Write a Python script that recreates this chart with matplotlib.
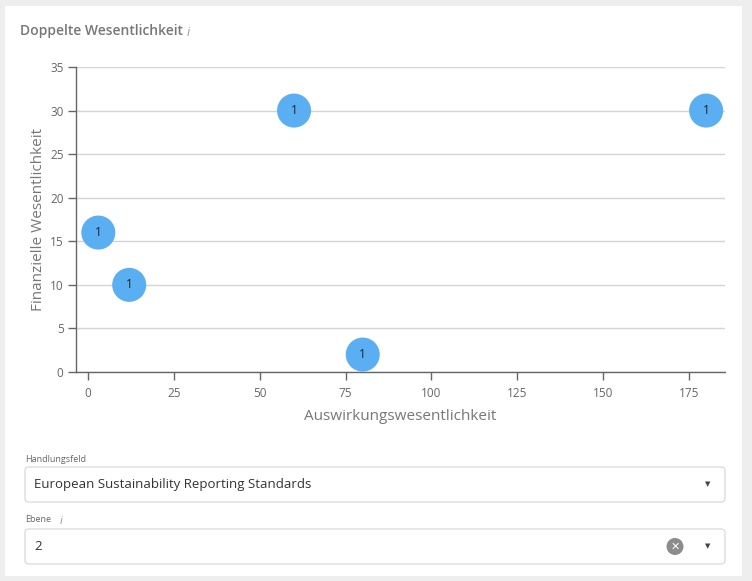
import matplotlib
matplotlib.use('Agg')
import matplotlib.pyplot as plt
from matplotlib.patches import FancyBboxPatch, Rectangle, Ellipse

# Daten
x_werte = [3, 12, 60, 80, 180]
y_werte = [16, 10, 30, 2, 30]
anzahl = [1, 1, 1, 1, 1]
x_ticks = [0, 25, 50, 75, 100, 125, 150, 175]
y_ticks = [0, 5, 10, 15, 20, 25, 30, 35]

plt.rcParams['font.family'] = ['Open Sans', 'DejaVu Sans']

W, H = 752, 581
fig = plt.figure(figsize=(W / 100, H / 100), dpi=100)
fig.patch.set_facecolor('#eeeeee')


# Pixelkoordinaten -> Figurkoordinaten
def fx(x):
    return x / W


def fy(y):
    return 1 - y / H


# Karte
fig.patches.append(Rectangle((fx(5), fy(576)), (742 - 5) / W, (576 - 6) / H,
                             transform=fig.transFigure, facecolor='white',
                             edgecolor='none', zorder=-5))

fig.text(fx(20), fy(31), 'Doppelte Wesentlichkeit', fontsize=10, fontweight='semibold',
         color='#777777', va='center', ha='left')
fig.text(fx(187), fy(33), 'i', fontsize=9, style='italic', color='#8a9bb0', va='center')

# Diagramm
ax = fig.add_axes([fx(76), fy(372), (725 - 76) / W, (372 - 67) / H])
ax.set_facecolor('white')
ax.scatter(x_werte, y_werte, s=600, color='#5aaef2', edgecolors='none', zorder=3, clip_on=False)
for xv, yv, n in zip(x_werte, y_werte, anzahl):
    ax.text(xv, yv, str(n), ha='center', va='center', fontsize=8.5, color='#222222', zorder=4)

ax.set_xlim(-3.5, 185.5)
ax.set_ylim(0, 35)
ax.set_xticks(x_ticks)
ax.set_yticks(y_ticks)
ax.grid(axis='y', color='#d4d4d4', linewidth=1)
ax.set_axisbelow(True)
for s in ['top', 'right']:
    ax.spines[s].set_visible(False)
for s in ['left', 'bottom']:
    ax.spines[s].set_color('#666666')
    ax.spines[s].set_linewidth(1)
ax.tick_params(axis='both', colors='#666666', labelsize=8.5, length=6, width=1, labelcolor='#666666')
ax.tick_params(axis='x', pad=5)
ax.tick_params(axis='y', pad=3)
ax.set_xlabel('Auswirkungswesentlichkeit', fontsize=11, color='#777777', labelpad=6)
ax.set_ylabel('Finanzielle Wesentlichkeit', fontsize=11, color='#777777', labelpad=3)


# Auswahlfelder
def dropdown(label, y_label, y0, y1, value, clear=False, info=False):
    fig.text(fx(25), fy(y_label), label, fontsize=6.5, color='#666666', va='center')
    if info:
        fig.text(fx(60), fy(y_label + 2), 'i', fontsize=8, style='italic', color='#8a9bb0', va='center')
    fig.patches.append(FancyBboxPatch((fx(25), fy(y1)), (725 - 25) / W, (y1 - y0) / H,
                                      boxstyle='round,pad=0,rounding_size=0.006',
                                      transform=fig.transFigure, facecolor='white',
                                      edgecolor='#dddddd', linewidth=1))
    ym = (y0 + y1) / 2
    fig.text(fx(34), fy(ym), value, fontsize=9.5, color='#333333', va='center')
    fig.text(fx(708), fy(ym), '\u25bc', fontsize=5, color='#444444', va='center', ha='center')
    if clear:
        fig.patches.append(Ellipse((fx(675), fy(ym)), 17 / W, 17 / H, transform=fig.transFigure,
                                   facecolor='#8c8c8c', edgecolor='none'))
        fig.text(fx(675), fy(ym), '\u2715', fontsize=8, color='white', va='center', ha='center',
                 fontweight='bold', family=['DejaVu Sans'])


dropdown('Handlungsfeld', 460, 467, 502, 'European Sustainability Reporting Standards')
dropdown('Ebene', 520, 529, 564, '2', clear=True, info=True)

fig.savefig('out.png', dpi=100, facecolor=fig.get_facecolor())
